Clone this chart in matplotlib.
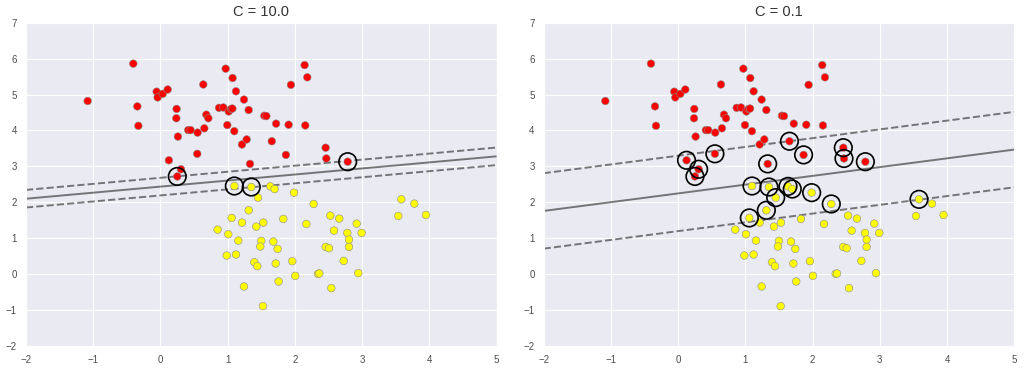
import numpy as np
import matplotlib
matplotlib.use("Agg")
import matplotlib.pyplot as plt
import seaborn as sns

# points (class 0 = red, class 1 = yellow)
red_x = [-1.083, -0.404, -0.344, -0.329, -0.057, -0.042, 0.033, 0.107, 0.240, 0.236,
         0.260, 0.125, 0.305, 0.250, 0.413, 0.448, 0.552, 0.547, 0.637, 0.652,
         0.682, 0.712, 0.970, 0.871, 0.935, 1.015, 1.050, 1.070, 0.994, 1.073,
         1.123, 1.098, 1.242, 1.312, 1.213, 1.282, 1.332, 1.545, 1.575, 1.720,
         1.656, 1.941, 1.906, 1.866, 2.144, 2.184, 2.154, 2.457, 2.467, 2.785]
red_y = [4.82, 5.86, 4.67, 4.13, 5.08, 4.92, 5.02, 5.14, 4.60, 4.34,
         3.83, 3.17, 2.92, 2.72, 4.01, 4.01, 3.94, 3.35, 5.28, 4.06,
         4.44, 4.34, 5.72, 4.63, 4.64, 4.53, 4.60, 4.61, 4.15, 5.46,
         5.09, 3.98, 4.86, 4.57, 3.61, 3.75, 3.07, 4.41, 4.40, 4.19,
         3.70, 5.27, 4.16, 3.32, 5.82, 5.48, 4.14, 3.52, 3.22, 3.13]

yel_x = [1.099, 1.351, 1.634, 1.698, 1.451, 1.986, 2.278, 1.312, 1.059, 1.213,
         1.530, 1.426, 1.827, 0.850, 1.009, 1.158, 1.500, 1.679, 1.485, 1.743,
         0.985, 1.123, 1.396, 1.441, 1.714, 1.961, 2.005, 1.242, 1.757, 1.525,
         2.170, 2.527, 2.660, 2.581, 2.918, 2.779, 2.992, 2.804, 2.804, 2.457,
         2.507, 2.725, 2.343, 2.363, 2.943, 2.542, 3.583, 3.776, 3.538, 3.949]
yel_y = [2.454, 2.426, 2.444, 2.370, 2.130, 2.269, 1.954, 1.778, 1.565, 1.435,
         1.435, 1.324, 1.537, 1.241, 1.111, 0.935, 0.926, 0.907, 0.769, 0.704,
         0.519, 0.546, 0.333, 0.222, 0.296, 0.361, -0.046, -0.343, -0.204, -0.889,
         1.398, 1.630, 1.546, 1.213, 1.407, 1.148, 1.148, 0.963, 0.759, 0.759,
         0.722, 0.370, 0.009, 0.019, 0.028, -0.389, 2.083, 1.963, 1.620, 1.648]

# decision boundary per panel: y = slope*x + intercept, margin = vertical half-width
C_values = [10.0, 0.1]
slopes = [0.1686, 0.244]
intercepts = [2.437, 2.248]
margins = [0.245, 1.05]

# support vectors as indices into red / yellow arrays
sv_red = [[13, 49], [11, 12, 13, 17, 36, 40, 43, 47, 48, 49]]
sv_yel = [[0, 1], [0, 1, 2, 3, 4, 5, 6, 7, 8, 46]]

sns.set_style("darkgrid")
plt.rcParams['font.family'] = ['Liberation Sans', 'DejaVu Sans']

X = np.vstack([np.r_[red_x, yel_x], np.r_[red_y, yel_y]]).T
labels = np.r_[np.zeros(len(red_x)), np.ones(len(yel_x))]

fig, axes = plt.subplots(1, 2, figsize=(10.24, 3.69), dpi=100)
fig.subplots_adjust(left=0.0254, right=0.9905, bottom=0.0623, top=0.9385, wspace=0.1)

xx = np.linspace(-2, 5, 60)
yy = np.linspace(-2, 7, 60)
XX, YY = np.meshgrid(xx, yy)

for i, ax in enumerate(axes):
    ax.scatter(X[:, 0], X[:, 1], c=labels, s=30, cmap='autumn',
               edgecolors='0.55', linewidths=0.4, zorder=3)
    P = (YY - slopes[i] * XX - intercepts[i]) / margins[i]
    ax.contour(XX, YY, P, levels=[-1, 0, 1], colors='k', alpha=0.5,
               linestyles=['--', '-', '--'], linewidths=1.4)
    sv_x = [red_x[j] for j in sv_red[i]] + [yel_x[j] for j in sv_yel[i]]
    sv_y = [red_y[j] for j in sv_red[i]] + [yel_y[j] for j in sv_yel[i]]
    ax.scatter(sv_x, sv_y, s=160, facecolors='none', edgecolors='k',
               linewidths=1.2, zorder=4)
    ax.set_xlim(-2, 5)
    ax.set_ylim(-2, 7)
    ax.set_title(f"C = {C_values[i]:.1f}", fontsize=10.5, color='0.2', pad=5)
    ax.tick_params(labelsize=7, colors='0.3', pad=3)

plt.savefig("out.png")
